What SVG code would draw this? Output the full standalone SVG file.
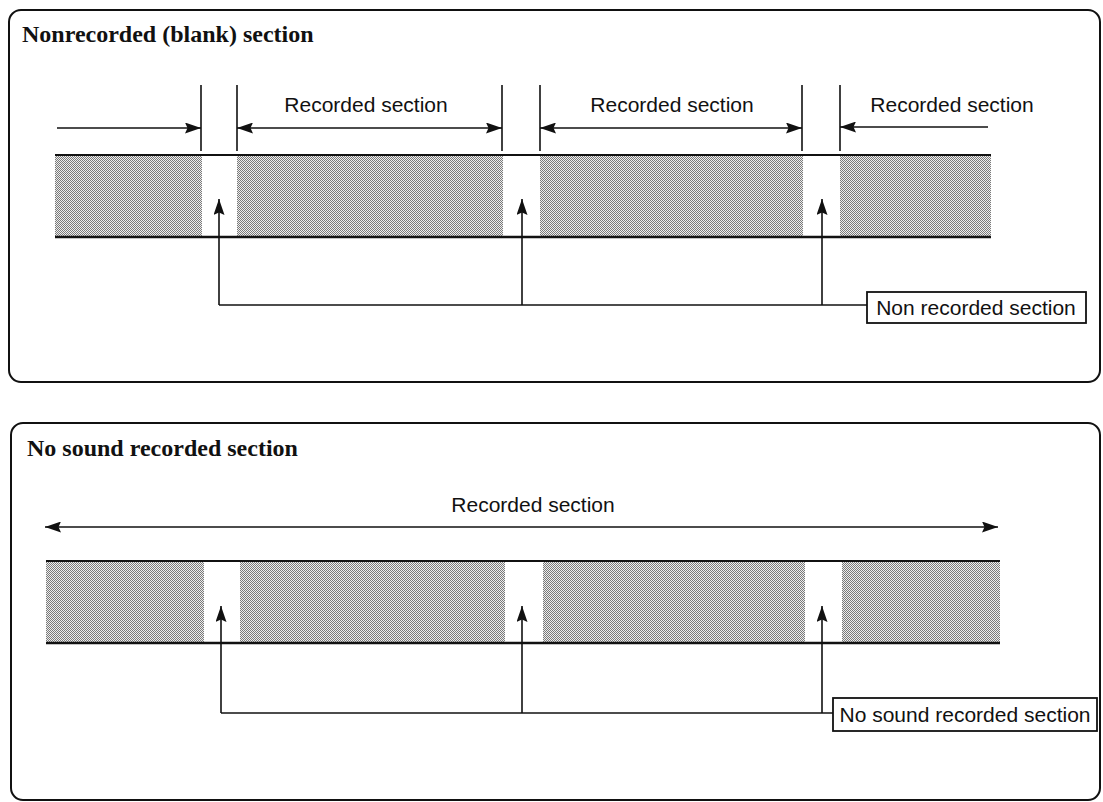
<svg xmlns="http://www.w3.org/2000/svg" width="1103" height="802" viewBox="0 0 1103 802">
<style>
.frame{fill:none;stroke:#111;stroke-width:2}
.title{font-family:"Liberation Serif",serif;font-weight:bold;font-size:24px;fill:#111}
.lbl{font-family:"Liberation Sans",Arial,sans-serif;font-size:21px;fill:#111}
.ln{stroke:#111;stroke-width:2;fill:none}
.thin{stroke:#111;stroke-width:1.6;fill:none}
.seg{fill:url(#dots)}
.box{fill:#fff;stroke:#111;stroke-width:1.8}
</style>
<defs>
<pattern id="dots" width="2" height="2" patternUnits="userSpaceOnUse">
<rect width="2" height="2" fill="#eeeeee"/>
<rect width="1" height="1" fill="#7a7a7a"/>
<rect x="1" y="1" width="1" height="1" fill="#7a7a7a"/>
</pattern>
<marker id="ah" viewBox="0 0 16 11" refX="16" refY="5.5" markerWidth="16" markerHeight="11" markerUnits="userSpaceOnUse" orient="auto-start-reverse">
<path d="M0,0 L16,5.5 L0,11 L2.5,5.5 Z" fill="#111"/>
</marker>
</defs>

<g id="panel-top">
<rect class="frame" x="9" y="10" width="1091" height="372" rx="12"/>
<text class="title" x="22" y="42">Nonrecorded (blank) section</text>
</g>

<g id="band-top">
<rect class="seg" x="55" y="156" width="147" height="80"/>
<rect class="seg" x="237" y="156" width="266" height="80"/>
<rect class="seg" x="540" y="156" width="263" height="80"/>
<rect class="seg" x="840" y="156" width="151" height="80"/>
<line class="ln" x1="55" y1="155" x2="991" y2="155"/>
<line class="ln" x1="55" y1="237" x2="991" y2="237" style="stroke-width:2.5"/>
</g>

<g id="ticks-top">
<line class="thin" x1="201" y1="85" x2="201" y2="151"/>
<line class="thin" x1="237" y1="85" x2="237" y2="151"/>
<line class="thin" x1="502" y1="85" x2="502" y2="151"/>
<line class="thin" x1="540" y1="85" x2="540" y2="151"/>
<line class="thin" x1="802" y1="85" x2="802" y2="151"/>
<line class="thin" x1="840" y1="85" x2="840" y2="151"/>
</g>

<g id="label-rec-1"><text class="lbl" x="366" y="112" text-anchor="middle">Recorded section</text></g>
<g id="label-rec-2"><text class="lbl" x="672" y="112" text-anchor="middle">Recorded section</text></g>
<g id="label-rec-3"><text class="lbl" x="952" y="112" text-anchor="middle">Recorded section</text></g>

<g id="node-nonrec">
<rect class="box" x="867" y="292" width="219" height="31"/>
<text class="lbl" x="976" y="315" text-anchor="middle">Non recorded section</text>
</g>

<g id="connectors-top">
<line class="thin" x1="57" y1="128" x2="201" y2="128" marker-end="url(#ah)"/>
<line class="thin" x1="237" y1="128" x2="502" y2="128" marker-start="url(#ah)" marker-end="url(#ah)"/>
<line class="thin" x1="540" y1="128" x2="802" y2="128" marker-start="url(#ah)" marker-end="url(#ah)"/>
<line class="thin" x1="840" y1="127" x2="988" y2="127" marker-start="url(#ah)"/>
<line class="thin" x1="219" y1="305" x2="219" y2="199" marker-end="url(#ah)"/>
<line class="thin" x1="522" y1="305" x2="522" y2="199" marker-end="url(#ah)"/>
<line class="thin" x1="822" y1="305" x2="822" y2="199" marker-end="url(#ah)"/>
<line class="thin" x1="219" y1="305" x2="867" y2="305"/>
</g>

<g id="panel-bottom">
<rect class="frame" x="11" y="423" width="1089" height="377" rx="12"/>
<text class="title" x="27" y="456">No sound recorded section</text>
</g>

<g id="band-bottom">
<rect class="seg" x="46" y="562" width="158" height="80"/>
<rect class="seg" x="240" y="562" width="265" height="80"/>
<rect class="seg" x="543" y="562" width="262" height="80"/>
<rect class="seg" x="842" y="562" width="158" height="80"/>
<line class="ln" x1="46" y1="561" x2="1000" y2="561"/>
<line class="ln" x1="46" y1="643" x2="1000" y2="643" style="stroke-width:2.5"/>
</g>

<g id="label-rec-all"><text class="lbl" x="533" y="512" text-anchor="middle">Recorded section</text></g>

<g id="node-nosound">
<rect class="box" x="833" y="698" width="264" height="33"/>
<text class="lbl" x="965" y="722" text-anchor="middle">No sound recorded section</text>
</g>

<g id="connectors-bottom">
<line class="thin" x1="45" y1="527" x2="998" y2="527" marker-start="url(#ah)" marker-end="url(#ah)"/>
<line class="thin" x1="221" y1="713" x2="221" y2="606" marker-end="url(#ah)"/>
<line class="thin" x1="522" y1="713" x2="522" y2="606" marker-end="url(#ah)"/>
<line class="thin" x1="822" y1="713" x2="822" y2="606" marker-end="url(#ah)"/>
<line class="thin" x1="221" y1="713" x2="833" y2="713"/>
</g>
</svg>
